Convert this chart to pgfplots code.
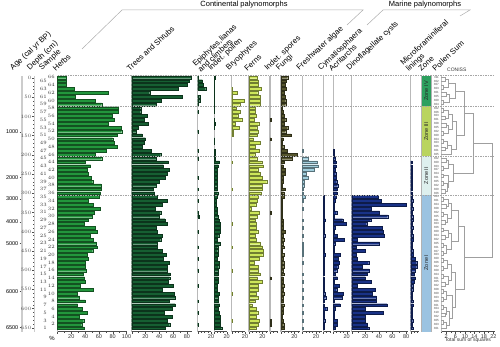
\documentclass[border=0pt]{standalone}
\usepackage{fontspec}
\setmainfont{Liberation Sans}
\usepackage{pgfplots}
\pgfplotsset{compat=1.18}
\usepackage{pgfplotstable}

\definecolor{herbcol}{RGB}{34,150,60}
\definecolor{treecol}{RGB}{22,95,50}
\definecolor{bryocol}{RGB}{205,230,90}
\definecolor{fungcol}{RGB}{85,85,45}
\definecolor{freshcol}{RGB}{160,205,220}
\definecolor{marcol}{RGB}{25,50,135}
\definecolor{zfour}{RGB}{45,160,95}
\definecolor{zthree}{RGB}{185,212,95}
\definecolor{ztwo}{RGB}{222,240,238}
\definecolor{zone}{RGB}{155,195,225}

% sample, then percentages per group
\pgfplotstableread{
s herbs trees epi indp bryo ferns inds fungi fresh cyma acri dino micro
66 12 86 0.5 1 0 12.5 0 10 0 0 0 0 0
65 12 83 7 0.5 0 14 0 8 0 0 0 0 0
64 13 80 8 0.5 0 14 0 6 0 0 0 0 0
63 24 67 12 0.5 1 18 0 8 0 0 0 0 0
62 74 26 0 0.5 8 13 0 5 0 0 0 0 0
61 25 73 3 0.5 1 16.5 0 6 0 0 0 0 0
60 55 43 3 0.5 19 17 0 7 0 0 0 0 0
59 64 35 0.5 0.5 12 17 0 7 0 0 0 0 0
58 88 13 0 0.5 7 9 0 2 0 0 0 0 0
57 88 13 0.5 0.5 13 9.5 0 3 0 0 0 0 0
56 79 22 0 0 9 10.5 0 5 0 0 0 0 0
55 82 18 0 0.5 15 8 1 7 0 0 0 0 0
54 74 24 0 1.5 5 14.5 0 5 0 0 0 0 0
53 92 9 0 0.5 11 11.5 0 10 0 0 0 0 0
52 93 7 0.5 0 2 13.5 0 7 0 0 0 0 0
51 86 15 0 0 2.5 12.5 0 15 0 0 0 0 0
50 80 20 0 0.5 0 6.5 1 3 0 0 0 0 0
49 82 18 0 0.5 0 17 0 2 0 0 0 0 0
48 87 15 0 0 0 9.5 0 4 0 0 0 0 0
47 70 28 0.5 1 0 15 0 9 1.5 0 0.5 0 0
46 55 42 0 2 0 8.5 0 24 0 0 1 0 0
45 64 35 0.5 1 0 11.5 0 17 9 0 3 0 0
44 40 53 0 8 1 19 0 5 22 0 4 0 2
43 48 46 0 6.5 0 21 0 3 23 0 4 0 1.5
42 43 54 0 4 0 13 0 6 17.5 0 3 0 2
41 45 51 0 4 0 16.5 0 6 5.5 0 3.5 0 1.5
40 49 48 0.5 4 0 20 0 3 8 0 4 0 2
39 51 40 0 5 0 26.5 0 3 2.5 0 5 0 2
38 63 35 0 4 0 20 0 2 2.5 0 6.5 0 2
37 63 31 0.5 5 0.5 20 0 6 1.5 0 5.5 0 1.5
36 62 33 0 5.5 0 17.5 0 4 1 0 5.5 0 2
35 60 37 0 5 0 14 0 5 4.5 0.5 4 39 2.5
34 44 52 0.5 3 0 12.5 0 2 1 0.5 2.5 43 3
33 52 44 0 3 0 10 0 2 0 0.5 1.5 80 2.5
32 62 34 0 4 0 3 0 2 1 0.5 1.5 29 3
31 53 42 0.5 4.5 0 15.5 1 2 0 0.5 5 41 2
30 50 40 2 6 0 12.5 0 2 0 0.5 1.5 53 3
29 44 48 0 7.5 0 9 0 3 0.5 3 14 28 3
28 39 52 0 9 0.5 11 0 3 0 0.5 19 22 2.5
27 55 35 0 10 0 10.5 0 3 1 0.5 2.5 45 3
26 57 37 0.5 10 0 13 0 6 0 0.5 1 46 2
25 48 44 0 7 0 9.5 0 3 1 2 6 48 3
24 52 42 0 5 0 11 0 4 0 0.5 16 8 3.5
23 56 37 0 9 0 16.5 0 3 1 0.5 3 41 2.5
22 57 37 0.5 5.5 0.5 20 0 4 1.5 0.5 1.5 6 2
21 51 44 0 5.5 0 21 0 2 1 0.5 1.5 20 3
20 43 50 0 6 0 20.5 0 4 1 3 10 7 4
19 44 46 0.5 5 0 15.5 0 3 0 0.5 7.5 8 7
18 40 54 0 8.5 0 8 0 4 1.5 0.5 9 25 9
17 40 51 0 7 0 14 0 4 0 0.5 6.5 16 9
16 41 51 0.5 6.5 0.5 14 0 3 0 0.5 5 26 6.5
15 37 56 0 6.5 0 17 0 4 0.5 0.5 3 23 5
14 39 55 0 6.5 0 12.5 1 3 0 0.5 6 20 6.5
13 40 53 0 6 0 20 0 3 0.5 0.5 1.5 29 5
12 33 60 0.5 5 0 14 0 4 0 0.5 9 8 3
11 52 44 0 5 0 14 0 3 0.5 0.5 5 35 3
10 29 62 0 8.5 0.5 11 0 4 0 2 15 30 2.5
9 32 63 0 6.5 0 13.5 0 3 0.5 3.5 13 36 2
8 40 54 0.5 6.5 0 8.5 0 3 0 0.5 1.5 36 3
7 29 63 0 8.5 0 4 0 4 0.5 0.5 10 52 3.5
6 36 59 0 6 0 10.5 0 3 0 5 3 20 2
5 43 47 0.5 7.5 0 13 0 3 0.5 0.5 1.5 46 2.5
4 32 59 0 10 0 10.5 0 2 0 0.5 1.5 20 2
3 38 52 0 9 0.5 15.5 1 3 0.5 2 6 20 3
2 35 55 0.5 10 0 14 1 4 0 1.5 6 23 1.5
1 39 49 0 12 0 10 0 5 0.5 0.5 3 25 3
}\data

\pgfplotsset{
  base/.style={scale only axis, height=256pt, ymin=0.1, ymax=66.4,
    clip=false, anchor=south west},
  panel/.style={base, xmin=0,
    axis x line*=bottom, axis y line*=left, ytick=\empty,
    x axis line style={-, draw=black!70, line width=0.4pt},
    y axis line style={-, draw=gray!55, line width=1.2pt},
    tick align=outside, major tick length=2pt, minor tick length=1.2pt,
    tick style={black!70, line width=0.3pt},
    xticklabel style={font=\fontsize{5.5}{6}\selectfont, text=black!80, inner sep=1pt},
    /pgf/number format/assume math mode=true,
    x filter/.expression={x<=0 ? nan : x}},
  bars/.style={xbar, bar width=0.72, bar shift=0, fill=#1, draw=#1!55!black, line width=0.25pt},
  side/.style={base, width=1pt, xmin=0, xmax=1, hide x axis, axis y line*=left,
    tick align=outside, tick style={black!70, line width=0.3pt}},
}

\begin{document}
\begin{tikzpicture}[x=1pt,y=1pt]
\useasboundingbox (0,0) rectangle (500,347);

% age axis
\begin{axis}[side, at={(22pt,15.3pt)},
  y axis line style={-, draw=gray!40, line width=1.5pt}, major tick length=2.5pt,
  ytick={1.15,10.5,23.0,28.5,34.5,40.1,51.8},
  yticklabels={6500,6000,5000,4000,3000,2000,1000},
  yticklabel style={font=\fontsize{5.5}{6}\selectfont, inner sep=1pt}]
\end{axis}
% depth axis
\begin{axis}[side, at={(34pt,15.3pt)}, ymin=-6, ymax=660.3, y dir=reverse,
  y axis line style={-, draw=gray!40, line width=0.3pt},
  ytick={0,50,...,650}, minor y tick num=4,
  major tick length=1.8pt, minor tick length=1pt,
  yticklabel style={font=\fontsize{4.5}{5}\selectfont, text=black!70, inner sep=0.8pt}]
\end{axis}
% sample numbers
\begin{axis}[side, at={(47.5pt,15.3pt)}, y axis line style={draw=none},
  major tick length=0pt, ytick={1,3,...,65},
  yticklabel style={font=\fontsize{5}{5}\selectfont, text=black!80, inner sep=0.5pt}]
\end{axis}
\begin{axis}[side, at={(55.5pt,15.3pt)}, y axis line style={draw=none},
  major tick length=0pt, ytick={2,4,...,66},
  yticklabel style={font=\fontsize{5}{5}\selectfont, text=black!80, inner sep=0.5pt}]
\end{axis}

% Herbs
\begin{axis}[panel, at={(57.5pt,15.3pt)}, width=69pt, xmax=100,
  xtick={0,20,...,100}, xticklabels={,20,40,60,80,100}, minor xtick={10,30,...,90}]
\addplot[bars=herbcol] table[x=herbs,y=s]{\data};
\end{axis}
% Trees and shrubs
\begin{axis}[panel, at={(131.7pt,15.3pt)}, width=60.7pt, xmax=88,
  xtick={0,20,...,80}, xticklabels={,20,40,60,80}, minor xtick={10,30,...,70}]
\addplot[bars=treecol] table[x=trees,y=s]{\data};
\end{axis}
% Epiphytes
\begin{axis}[panel, at={(197.7pt,15.3pt)}, width=13.3pt, xmax=20,
  xtick={0,20}, xticklabels={,20}, minor xtick={5,10,15}]
\addplot[bars=treecol] table[x=epi,y=s]{\data};
\end{axis}
% Indet. pollen
\begin{axis}[panel, at={(214.3pt,15.3pt)}, width=12.4pt, xmax=20,
  xtick={0,20}, xticklabels={,20}, minor xtick={5,10,15}]
\addplot[bars=treecol] table[x=indp,y=s]{\data};
\end{axis}
% Bryophytes
\begin{axis}[panel, at={(231.7pt,15.3pt)}, width=13.3pt, xmax=20,
  xtick={0,20}, xticklabels={,20}, minor xtick={5,10,15}]
\addplot[bars=bryocol] table[x=bryo,y=s]{\data};
\end{axis}
% Ferns
\begin{axis}[panel, at={(249pt,15.3pt)}, width=18.7pt, xmax=28,
  xtick={0,20}, xticklabels={,20}, minor xtick={5,10,15,25}]
\addplot[bars=bryocol] table[x=ferns,y=s]{\data};
\end{axis}
% Indet. spores
\begin{axis}[panel, at={(270pt,15.3pt)}, width=8pt, xmax=12,
  xtick={0}, xticklabels={}, minor xtick={5,10}]
\addplot[bars=fungcol] table[x=inds,y=s]{\data};
\end{axis}
% Fungi
\begin{axis}[panel, at={(281pt,15.3pt)}, width=18.7pt, xmax=28,
  xtick={0,20}, xticklabels={,20}, minor xtick={5,10,15,25}]
\addplot[bars=fungcol] table[x=fungi,y=s]{\data};
\end{axis}
% Freshwater algae
\begin{axis}[panel, at={(302.3pt,15.3pt)}, width=19.2pt, xmax=28,
  xtick={0,20}, xticklabels={,20}, minor xtick={5,10,15,25}]
\addplot[bars=freshcol] table[x=fresh,y=s]{\data};
\end{axis}
% Cymatiosphaera
\begin{axis}[panel, at={(323.3pt,15.3pt)}, width=8pt, xmax=12,
  xtick={0}, xticklabels={}, minor xtick={5,10}]
\addplot[bars=marcol] table[x=cyma,y=s]{\data};
\end{axis}
% Acritarchs
\begin{axis}[panel, at={(333.3pt,15.3pt)}, width=16.7pt, xmax=25,
  xtick={0,20}, xticklabels={,20}, minor xtick={5,10,15}]
\addplot[bars=marcol] table[x=acri,y=s]{\data};
\end{axis}
% Dinoflagellate cysts
\begin{axis}[panel, at={(351.7pt,15.3pt)}, width=56.4pt, xmax=83,
  xtick={0,20,...,80}, xticklabels={,20,40,60,80}, minor xtick={10,30,...,70}]
\addplot[bars=marcol] table[x=dino,y=s]{\data};
\end{axis}
% Microforaminiferal linings
\begin{axis}[panel, at={(410.7pt,15.3pt)}, width=8.7pt, xmax=13,
  xtick={0}, xticklabels={}, minor xtick={5,10}]
\addplot[bars=marcol] table[x=micro,y=s]{\data};
\end{axis}

% Zones
\begin{axis}[base, at={(421.5pt,15.3pt)}, width=9.5pt, xmin=0, xmax=1, hide axis]
\fill[zfour] (axis cs:0,58.5) rectangle (axis cs:1,66.4);
\fill[zthree] (axis cs:0,45.5) rectangle (axis cs:1,58.5);
\fill[ztwo] (axis cs:0,35.5) rectangle (axis cs:1,45.5);
\fill[zone] (axis cs:0,0.1) rectangle (axis cs:1,35.5);
\draw[gray!60, line width=0.6pt] (axis cs:0,0.1) -- (axis cs:0,66.4)
  (axis cs:1,0.1) -- (axis cs:1,66.4);
\begin{scope}[every node/.style={rotate=90, font=\fontsize{5.5}{6}\selectfont, text=black!85}]
\node at (axis cs:0.5,62.45) {Zone IV};
\node at (axis cs:0.5,52) {Zone III};
\node at (axis cs:0.5,40.5) {Zone II};
\node at (axis cs:0.5,18) {Zone I};
\end{scope}
\end{axis}

% CONISS with pollen sums
\begin{axis}[base, at={(441.3pt,15.3pt)}, width=53.2pt, xmin=0, xmax=22.5,
  axis x line*=bottom, axis y line*=left,
  x axis line style={-, draw=black!70, line width=0.4pt},
  y axis line style={-, draw=gray!50, line width=0.4pt},
  tick align=outside, major tick length=2pt, minor tick length=1.2pt,
  tick style={black!70, line width=0.3pt},
  xtick={2,6,...,22}, minor xtick={0,4,...,20},
  xticklabel style={font=\fontsize{5.5}{6}\selectfont, text=black!80, inner sep=1pt},
  /pgf/number format/assume math mode=true,
  xlabel={Total sum of squares},
  xlabel style={font=\fontsize{5}{6}\selectfont, text=black!80, inner sep=0pt, yshift=2.5pt},
  ytick={1,...,66}, ytick style={draw=none},
  yticklabels={301,303,305,302,310,304,301,306,303,300,308,302,305,301,304,309,302,306,300,303,307,301,305,302,304,300,306,303,301,305,302,308,304,301,303,306,300,302,305,301,304,307,303,300,302,305,301,306,303,304,300,302,305,308,301,303,306,302,304,300,305,301,303,307,302,311},
  yticklabel style={font=\fontsize{3}{3}\selectfont, text=black!70, inner sep=0.2pt},
  unbounded coords=jump]
\addplot[gray!75, line width=0.45pt] coordinates {
(0,66)(1.5,66)(1.5,65)(0,65) (nan,nan)
(0,64)(1,64)(1,63)(0,63) (nan,nan)
(1.5,65.5)(3,65.5)(3,63.5)(1,63.5) (nan,nan)
(0,62)(2,62)(2,61)(0,61) (nan,nan)
(0,60)(1,60)(1,59)(0,59) (nan,nan)
(2,61.5)(3.5,61.5)(3.5,59.5)(1,59.5) (nan,nan)
(3,64.5)(6,64.5)(6,60.5)(3.5,60.5) (nan,nan)
(0,58)(1,58)(1,57)(0,57) (nan,nan)
(0,56)(1.5,56)(1.5,55)(0,55) (nan,nan)
(1,57.5)(3,57.5)(3,55.5)(1.5,55.5) (nan,nan)
(0,54)(2,54)(2,53)(0,53) (nan,nan)
(0,52)(1,52)(1,51)(0,51) (nan,nan)
(2,53.5)(3,53.5)(3,51.5)(1,51.5) (nan,nan)
(3,56.5)(4.5,56.5)(4.5,52.5)(3,52.5) (nan,nan)
(0,50)(1,50)(1,49)(0,49) (nan,nan)
(0,48)(1.5,48)(1.5,47)(0,47) (nan,nan)
(1,49.5)(2.5,49.5)(2.5,47.5)(1.5,47.5) (nan,nan)
(2.5,48.5)(4,48.5)(4,46)(0,46) (nan,nan)
(4.5,54.5)(6.5,54.5)(6.5,47.25)(4,47.25) (nan,nan)
(6,62.5)(9.5,62.5)(9.5,50.875)(6.5,50.875) (nan,nan)
(0,45)(2,45)(2,44)(0,44) (nan,nan)
(0,43)(1,43)(1,42)(0,42) (nan,nan)
(2,44.5)(3,44.5)(3,42.5)(1,42.5) (nan,nan)
(0,41)(1,41)(1,40)(0,40) (nan,nan)
(0,39)(1,39)(1,38)(0,38) (nan,nan)
(0,37)(1.5,37)(1.5,36)(0,36) (nan,nan)
(1,38.5)(2.5,38.5)(2.5,36.5)(1.5,36.5) (nan,nan)
(1,40.5)(3,40.5)(3,37.5)(2.5,37.5) (nan,nan)
(3,43.5)(5,43.5)(5,39)(3,39) (nan,nan)
(9.5,56.69)(13.5,56.69)(13.5,41.25)(5,41.25) (nan,nan)
(0,35)(1,35)(1,34)(0,34) (nan,nan)
(0,33)(2,33)(2,32)(0,32) (nan,nan)
(1,34.5)(3,34.5)(3,32.5)(2,32.5) (nan,nan)
(0,31)(1,31)(1,30)(0,30) (nan,nan)
(0,29)(1.5,29)(1.5,28)(0,28) (nan,nan)
(1,30.5)(2.5,30.5)(2.5,28.5)(1.5,28.5) (nan,nan)
(3,33.5)(4,33.5)(4,29.5)(2.5,29.5) (nan,nan)
(0,27)(1,27)(1,26)(0,26) (nan,nan)
(0,25)(1.5,25)(1.5,24)(0,24) (nan,nan)
(1,26.5)(3,26.5)(3,24.5)(1.5,24.5) (nan,nan)
(0,23)(1,23)(1,22)(0,22) (nan,nan)
(0,21)(1,21)(1,20)(0,20) (nan,nan)
(1,22.5)(2,22.5)(2,20.5)(1,20.5) (nan,nan)
(3,25.5)(4,25.5)(4,21.5)(2,21.5) (nan,nan)
(4,31.5)(7,31.5)(7,23.5)(4,23.5) (nan,nan)
(0,19)(1,19)(1,18)(0,18) (nan,nan)
(0,17)(1,17)(1,16)(0,16) (nan,nan)
(1,18.5)(2.5,18.5)(2.5,16.5)(1,16.5) (nan,nan)
(0,15)(1,15)(1,14)(0,14) (nan,nan)
(0,13)(1.5,13)(1.5,12)(0,12) (nan,nan)
(1,14.5)(3,14.5)(3,12.5)(1.5,12.5) (nan,nan)
(2.5,17.5)(4,17.5)(4,13.5)(3,13.5) (nan,nan)
(0,11)(1,11)(1,10)(0,10) (nan,nan)
(0,9)(1,9)(1,8)(0,8) (nan,nan)
(1,10.5)(2,10.5)(2,8.5)(1,8.5) (nan,nan)
(0,7)(1,7)(1,6)(0,6) (nan,nan)
(0,5)(1.5,5)(1.5,4)(0,4) (nan,nan)
(1,6.5)(2,6.5)(2,4.5)(1.5,4.5) (nan,nan)
(0,3)(1,3)(1,2)(0,2) (nan,nan)
(1,2.5)(2,2.5)(2,1)(0,1) (nan,nan)
(2,5.5)(3.5,5.5)(3.5,1.75)(2,1.75) (nan,nan)
(2,9.5)(4.5,9.5)(4.5,3.625)(3.5,3.625) (nan,nan)
(4,15.5)(6,15.5)(6,6.56)(4.5,6.56) (nan,nan)
(7,27.5)(9.5,27.5)(9.5,11.03)(6,11.03) (nan,nan)
(13.5,48.97)(21.7,48.97)(21.7,19.27)(9.5,19.27)
};
\end{axis}

% zone boundaries and top line across all panels
\begin{axis}[base, at={(57.5pt,15.3pt)}, width=437.5pt, xmin=0, xmax=1, hide axis]
\begin{scope}[gray!70, line width=0.5pt, dash pattern=on 1.5pt off 1pt]
\draw (axis cs:0,66.4) -- (axis cs:1,66.4);
\draw (axis cs:0,58.5) -- (axis cs:1,58.5);
\draw (axis cs:0,45.5) -- (axis cs:1,45.5);
\draw (axis cs:0,35.5) -- (axis cs:1,35.5);
\end{scope}
\end{axis}

% headers
\begin{scope}[every node/.style={font=\fontsize{7.8}{8}\selectfont, rotate=43,
    anchor=south west, inner sep=0pt, align=left}]
\node at (14,275) {Age (cal yr BP)};
\node at (31,275) {Depth (cm)};
\node at (43,275) {Sample};
\node at (56,275) {Herbs};
\node at (130,275) {Trees and Shrubs};
\node at (201,274) {Epiphytes,lianas\\and climbers};
\node at (212,275) {Indet. pollen};
\node at (230,275) {Bryophytes};
\node at (247.5,275) {Ferns};
\node at (268.5,275) {Indet. spores};
\node at (280,275) {Fungi};
\node at (300.5,275) {Freshwater algae};
\node at (322,275) {Cymatiosphaera};
\node at (332,275) {Acritarchs};
\node at (350.5,275) {Dinoflagellate cysts};
\node at (410,274) {Microforaminiferal\\linings};
\node at (421.5,275) {Zone};
\node at (435.5,275) {Pollen Sum};
\end{scope}
\node[font=\fontsize{5}{6}\selectfont, anchor=west, inner sep=0pt, text=black!80] at (447,277) {CONISS};
\node[font=\fontsize{6}{7}\selectfont, inner sep=0pt] at (52,9) {\%};

% group brackets
\draw[gray!65, line width=0.5pt] (82,298) -- (122,337) -- (363,337) -- (347,322);
\draw[gray!65, line width=0.5pt] (367,322) -- (383,337) -- (470,337) -- (460,331);
\node[font=\fontsize{7.5}{8}\selectfont, inner sep=0pt] at (244,342) {Continental palynomorphs};
\node[font=\fontsize{7.5}{8}\selectfont, inner sep=0pt] at (425,342) {Marine palynomorphs};
\end{tikzpicture}
\end{document}
